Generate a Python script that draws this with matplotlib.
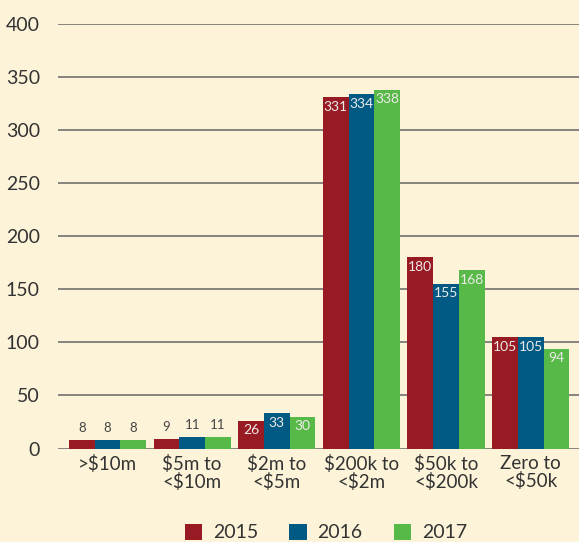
import matplotlib
matplotlib.use("Agg")
import matplotlib.pyplot as plt
import numpy as np
from matplotlib.patches import Patch

categories = [">$10m", "$5m to\n<$10m", "$2m to\n<$5m", "$200k to\n<$2m", "$50k to\n<$200k", "Zero to\n<$50k"]
years = ["2015", "2016", "2017"]
v2015 = [8, 9, 26, 331, 180, 105]
v2016 = [8, 11, 33, 334, 155, 105]
v2017 = [8, 11, 30, 338, 168, 94]
series = [v2015, v2016, v2017]
colors = ["#981B24", "#015A83", "#57B947"]
yticks = [0, 50, 100, 150, 200, 250, 300, 350, 400]

bg = "#FCF3D8"
plt.rcParams['font.family'] = ['Lato', 'DejaVu Sans']

fig = plt.figure(figsize=(5.79, 5.42), dpi=100, facecolor=bg)
ax = fig.add_axes([58/579, (542-448.5)/542, 1-58/579, (448.5-24)/542])
ax.set_facecolor(bg)

x = np.arange(len(categories))
w = 0.304
for i, (vals, c) in enumerate(zip(series, colors)):
    xs = x + (i - 1) * w
    ax.bar(xs, vals, width=w, color=c, zorder=3, linewidth=0)
    for xi, v in zip(xs, vals):
        if v >= 20:
            ax.annotate(str(v), (xi, v), xytext=(0, -2.5), textcoords="offset points",
                        ha="center", va="top", fontsize=10, color="#EEEAE8", zorder=4)
        else:
            ax.annotate(str(v), (xi, v), xytext=(0, 4), textcoords="offset points",
                        ha="center", va="bottom", fontsize=9.5, color="#444444", zorder=4)

ax.set_ylim(0, 400)
ax.set_xlim(-0.585, 5.571)
ax.set_yticks(yticks)
ax.set_yticklabels([str(t) for t in yticks])
ax.set_xticks(x)
ax.set_xticklabels(categories, linespacing=1.0)
ax.yaxis.grid(True, color="#666666", linewidth=1.1, zorder=0)
ax.set_axisbelow(True)
for s in ax.spines.values():
    s.set_visible(False)
ax.tick_params(axis="y", length=0, pad=13, labelsize=14, labelcolor="#333333")
ax.tick_params(axis="x", length=0, pad=5, labelsize=13.5, labelcolor="#333333")
for lbl in ax.get_yticklabels():
    lbl.set_ha("right")

handles = [Patch(facecolor=c, edgecolor="none", label=y) for c, y in zip(colors, years)]
fig.legend(handles=handles, loc="center", bbox_to_anchor=(326/579, 9.5/542), ncol=3,
           frameon=False, fontsize=14, handlelength=0.88, handleheight=0.88,
           handletextpad=0.57, columnspacing=1.6, borderpad=0, labelcolor="#333333")

fig.savefig("out.png", dpi=100, facecolor=bg)
